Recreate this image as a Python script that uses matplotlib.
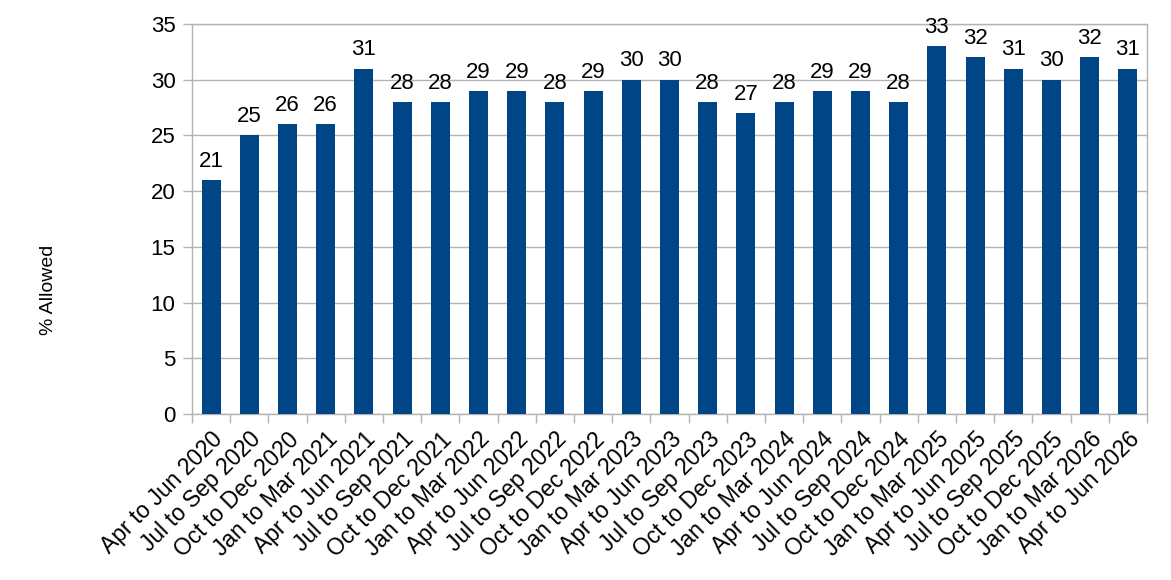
"""Bar chart of % allowed by quarter."""

import matplotlib
matplotlib.use("Agg")
import matplotlib.pyplot as plt
import numpy as np

plt.rcParams.update({
    "font.family": ["Liberation Sans", "DejaVu Sans"],
    "font.size": 16,
})

quarters = [
    "Apr to Jun 2020", "Jul to Sep 2020", "Oct to Dec 2020", "Jan to Mar 2021",
    "Apr to Jun 2021", "Jul to Sep 2021", "Oct to Dec 2021", "Jan to Mar 2022",
    "Apr to Jun 2022", "Jul to Sep 2022", "Oct to Dec 2022", "Jan to Mar 2023",
    "Apr to Jun 2023", "Jul to Sep 2023", "Oct to Dec 2023", "Jan to Mar 2024",
    "Apr to Jun 2024", "Jul to Sep 2024", "Oct to Dec 2024", "Jan to Mar 2025",
    "Apr to Jun 2025", "Jul to Sep 2025", "Oct to Dec 2025", "Jan to Mar 2026",
    "Apr to Jun 2026",
]
pct_allowed = [21, 25, 26, 26, 31, 28, 28, 29, 29, 28, 29, 30, 30, 28, 27,
               28, 29, 29, 28, 33, 32, 31, 30, 32, 31]
y_ticks = [0, 5, 10, 15, 20, 25, 30, 35]

_CLR_BAR = "#004586"
_CLR_GRID = "#b3b3b3"

fig = plt.figure(figsize=(11.71, 5.8), dpi=100)
ax = fig.add_axes([0.164, 0.2862, 0.8155, 0.6724])

x = np.arange(len(quarters))
bars = ax.bar(x, pct_allowed, width=0.5, color=_CLR_BAR, zorder=3)
ax.bar_label(bars, labels=[str(v) for v in pct_allowed], padding=6, fontsize=16)

ax.set_xlim(-0.5, len(quarters) - 0.5)
ax.set_ylim(0, 35)
ax.set_yticks(y_ticks)
ax.yaxis.grid(True, color=_CLR_GRID, linewidth=1, zorder=0)

# marcas nos limites das categorias, rótulos nos centros
ax.set_xticks(np.arange(-0.5, len(quarters), 1.0))
ax.set_xticklabels([])
ax.set_xticks(x, minor=True)
ax.set_xticklabels(quarters, minor=True, rotation=45, ha="right",
                   rotation_mode="anchor", fontsize=16.5)
ax.tick_params(axis="x", which="major", length=6.5, color=_CLR_GRID, width=1)
ax.tick_params(axis="x", which="minor", length=0, pad=10)
ax.tick_params(axis="y", length=6.5, color=_CLR_GRID, width=1, labelsize=16,
               pad=5.5)

for side in ("top", "right", "left", "bottom"):
    ax.spines[side].set_color(_CLR_GRID)
    ax.spines[side].set_linewidth(1)

fig.text(0.041, 0.5, "% Allowed", rotation=90, ha="center", va="center",
         fontsize=14)

fig.savefig("out.png", dpi=100)
plt.close(fig)
